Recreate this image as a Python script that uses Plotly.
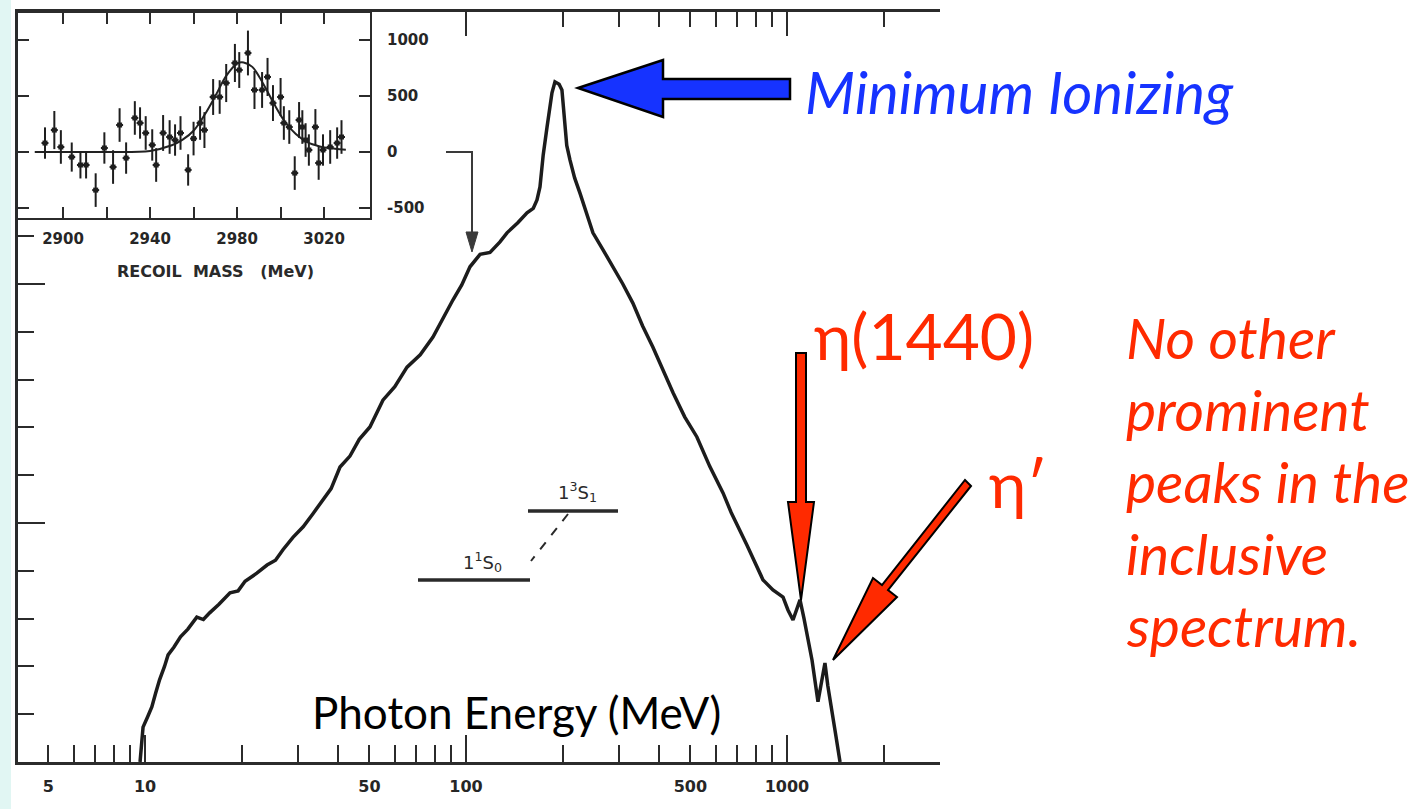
import plotly.graph_objects as go

W, H = 1424, 809

# ---------------- data ----------------
# main inclusive photon spectrum (photon energy in MeV, counts in arbitrary units)
energy = [9.65, 9.75, 9.86, 10.2, 10.5, 10.8, 11.1, 11.5, 11.8, 12.3, 12.9, 13.6, 14.5, 15.2, 15.9,
          17.0, 18.4, 19.5, 20.5, 22.3, 24.0, 25.5, 26.9, 28.9, 31.1, 33.4, 35.9, 38.0, 40.5, 43.5,
          46.5, 50.2, 55.1, 60.0, 65.5, 72.0, 78.9, 85.0, 91.1, 97.0, 102.9, 110.6, 118.8, 127.6,
          134.2, 145.0, 154.9, 162.0, 166.4, 170.0, 174.0, 178.8, 182.0, 185.3, 189.3, 195.0, 199.0,
          201.0, 203.0, 206.0, 210.9, 218.0, 226.5, 237.0, 248.6, 267.0, 287.0, 308.0, 331.0, 355.0,
          382.0, 410.0, 442.0, 480.0, 524.0, 575.0, 632.0, 670.0, 714.0, 750.0, 842.0, 904.0, 972.0,
          1007.0, 1044.0, 1075.0, 1098.0, 1130.0, 1163.0, 1197.0, 1249.0, 1280.0, 1313.0, 1340.0,
          1381.0, 1420.0, 1463.0]
counts = [0.0, 0.40, 0.73, 0.95, 1.15, 1.45, 1.72, 2.00, 2.24, 2.40, 2.62, 2.78, 3.03, 2.98, 3.12,
          3.30, 3.54, 3.58, 3.78, 3.95, 4.12, 4.22, 4.44, 4.70, 4.92, 5.20, 5.48, 5.72, 6.17, 6.40,
          6.75, 7.01, 7.57, 7.85, 8.26, 8.52, 8.89, 9.30, 9.67, 9.98, 10.36, 10.62, 10.66, 10.88,
          11.07, 11.28, 11.49, 11.58, 11.76, 12.03, 12.70, 13.28, 13.70, 14.00, 14.23, 14.18, 14.06,
          13.70, 13.28, 12.90, 12.59, 12.22, 11.90, 11.50, 11.07, 10.72, 10.36, 10.00, 9.60, 9.12,
          8.68, 8.20, 7.72, 7.22, 6.80, 6.18, 5.63, 5.22, 4.85, 4.54, 3.81, 3.60, 3.45,
          3.18, 2.97, 3.22, 3.39, 3.00, 2.55, 2.13, 1.26, 1.70, 2.07, 1.60,
          1.09, 0.55, 0.0]

x_label_vals = [5, 10, 50, 100, 500, 1000]
x_long_vals = [10, 100, 1000]
x_minor_vals = [6, 7, 8, 9, 20, 30, 40, 60, 70, 80, 90, 200, 300, 400, 600, 700, 800, 900, 2000, 3000]
x_top_long = [100, 1000]
x_top_minor = [200, 300, 400, 500, 600, 700, 800, 900, 2000, 3000]
y_long_vals = [5, 10]
y_minor_vals = [1, 2, 3, 4, 6, 7, 8, 9, 11]

# inset: recoil mass spectrum (background subtracted)
mass = [2891.7, 2896.0, 2899.0, 2904.0, 2908.0, 2910.6, 2915.0, 2919.0, 2923.0, 2926.0, 2929.0,
        2933.0, 2935.4, 2938.0, 2941.0, 2942.8, 2946.0, 2949.0, 2951.5, 2954.0, 2957.5, 2960.0,
        2963.0, 2965.0, 2969.0, 2972.0, 2975.0, 2979.0, 2981.0, 2985.0, 2988.0, 2991.5, 2994.0,
        2996.5, 3000.0, 3001.5, 3004.0, 3006.5, 3008.5, 3010.0, 3011.5, 3013.0, 3016.0, 3017.5,
        3019.5, 3022.8, 3026.0, 3028.0]
signal = [80, 196, 45, -45, -116, -116, -340, 36, -134, 241, -54,
          304, 259, 170, 63, -116, 170, 134, 107, 170, -160, 120,
          259, 196, 491, 491, 616, 795, 732, 884, 554, 554, 670,
          437, 491, 259, 223, -188, 286, 223, 107, 18, 223, -98,
          18, 45, 80, 134]
sig_err = [140, 170, 150, 130, 120, 120, 150, 140, 150, 150, 140,
           150, 140, 150, 140, 150, 160, 150, 140, 150, 140, 150,
           150, 160, 160, 150, 170, 170, 160, 200, 170, 160, 170,
           160, 170, 150, 150, 150, 160, 150, 150, 140, 160, 150,
           140, 150, 140, 150]
fit_mass = [2887, 2900, 2920, 2940, 2950, 2955, 2960, 2965, 2970, 2975, 2980, 2983, 2987, 2992,
            2997, 3002, 3007, 3012, 3018, 3025, 3030]
fit_vals = [0, 0, 0, 10, 60, 110, 190, 330, 500, 680, 790, 800, 760, 610, 430, 270, 160, 90, 50,
            30, 20]
inset_x_labels = [2900, 2940, 2980, 3020]
inset_x_minor = [2920, 2960, 3000]
inset_y_ticks = [-500, 0, 500, 1000]


# ---------------- helpers (pixel -> paper for decorations) ----------------
def px(x):
    return x / W


def py(y):
    return 1 - y / H


def path(points):
    return "M " + " L ".join(f"{px(a):.5f},{py(b):.5f}" for a, b in points) + " Z"


AX = "#2b2b2b"
TICKFONT = dict(family="DejaVu Sans", size=15, color="#262626", weight="bold")

fig = go.Figure()

# main spectrum
fig.add_trace(go.Scatter(x=energy, y=counts, mode="lines", xaxis="x", yaxis="y",
                         line=dict(color="#1c1c1c", width=3.5), showlegend=False, hoverinfo="skip"))
# empty traces to realise overlay axes
fig.add_trace(go.Scatter(x=[], y=[], xaxis="x2", yaxis="y", showlegend=False))
fig.add_trace(go.Scatter(x=[], y=[], xaxis="x3", yaxis="y", showlegend=False))

# inset
fig.add_trace(go.Scatter(x=fit_mass, y=fit_vals, mode="lines", xaxis="x4", yaxis="y4",
                         line=dict(color="#222", width=2, shape="spline"), showlegend=False,
                         hoverinfo="skip"))
fig.add_trace(go.Scatter(x=mass, y=signal, mode="markers", xaxis="x4", yaxis="y4",
                         marker=dict(symbol="square", size=5, color="#1e1e1e"),
                         error_y=dict(type="data", array=sig_err, color="#1e1e1e", thickness=2, width=0),
                         error_x=dict(type="constant", value=1.6, color="#1e1e1e", thickness=2, width=0),
                         showlegend=False, hoverinfo="skip"))

main_xrange = [0.6043, 3.4767]
main_xdom = [px(18), px(940)]
main_ydom = [py(762), py(12)]

fig.update_layout(
    width=W, height=H,
    margin=dict(l=0, r=0, t=0, b=0),
    paper_bgcolor="white", plot_bgcolor="white",
    xaxis=dict(type="log", range=main_xrange, domain=main_xdom, anchor="y",
               showgrid=False, zeroline=False, showline=True, linecolor=AX, linewidth=2.5,
               ticks="inside", ticklen=17, tickwidth=2, tickcolor=AX,
               tickmode="array", tickvals=x_label_vals, ticktext=[str(v) for v in x_label_vals],
               tickfont=dict(family="DejaVu Sans", size=16, color="#262626", weight="bold"),
               ticklabelstandoff=8,
               minor=dict(tickmode="array", tickvals=x_minor_vals, ticks="inside", ticklen=17,
                          tickwidth=2, tickcolor=AX, showgrid=False)),
    xaxis2=dict(type="log", range=main_xrange, overlaying="x", anchor="y", side="bottom",
                showgrid=False, zeroline=False, showline=False, showticklabels=False,
                ticks="inside", ticklen=27, tickwidth=2, tickcolor=AX,
                tickmode="array", tickvals=x_long_vals),
    xaxis3=dict(type="log", range=main_xrange, overlaying="x", anchor="y", side="top",
                showgrid=False, zeroline=False, showline=True, linecolor=AX, linewidth=2.5,
                showticklabels=False, ticks="inside", ticklen=24, tickwidth=2, tickcolor=AX,
                tickmode="array", tickvals=x_top_long,
                minor=dict(tickmode="array", tickvals=x_top_minor, ticks="inside", ticklen=15,
                           tickwidth=2, tickcolor=AX, showgrid=False)),
    yaxis=dict(range=[0, 15.69], domain=main_ydom, anchor="x",
               showgrid=False, zeroline=False, showline=True, linecolor=AX, linewidth=2.5,
               showticklabels=False, ticks="inside", ticklen=27, tickwidth=2, tickcolor=AX,
               tickmode="array", tickvals=y_long_vals,
               minor=dict(tickmode="array", tickvals=y_minor_vals, ticks="inside", ticklen=16,
                          tickwidth=2, tickcolor=AX, showgrid=False)),
    xaxis4=dict(range=[2879.3, 3041.1], domain=[px(18), px(370)], anchor="y4",
                showgrid=False, zeroline=False, showline=True, linecolor=AX, linewidth=2,
                mirror="ticks", ticks="inside", ticklen=11, tickwidth=2, tickcolor=AX,
                tickmode="array", tickvals=inset_x_labels,
                ticktext=[str(v) for v in inset_x_labels], tickfont=TICKFONT, ticklabelstandoff=6,
                minor=dict(tickmode="array", tickvals=inset_x_minor, ticks="inside", ticklen=11,
                           tickwidth=2, tickcolor=AX, showgrid=False)),
    yaxis4=dict(range=[-589, 1241], domain=[py(218), py(13)], anchor="x4", side="right",
                showgrid=False, zeroline=False, showline=True, linecolor=AX, linewidth=2,
                mirror="ticks", ticks="inside", ticklen=11, tickwidth=2, tickcolor=AX,
                tickmode="array", tickvals=inset_y_ticks,
                ticktext=[str(v) for v in inset_y_ticks], tickfont=TICKFONT, ticklabelstandoff=12),
)

shapes = []
# light strip at the left edge
shapes.append(dict(type="rect", xref="paper", yref="paper", x0=0, x1=px(11), y0=0, y1=1,
                   fillcolor="#e1f6f3", line=dict(width=0), layer="below"))
# blue arrow -> minimum ionizing peak
shapes.append(dict(type="path", xref="paper", yref="paper",
                   path=path([(578, 88), (663, 60), (663, 79), (790, 79), (790, 99), (663, 99), (663, 117)]),
                   fillcolor="#1633ff", line=dict(color="#000", width=2.5)))
# red vertical arrow -> eta(1440)
shapes.append(dict(type="path", xref="paper", yref="paper",
                   path=path([(796, 353), (806, 353), (806, 502), (814, 502), (801, 600),
                              (788, 502), (796, 502)]),
                   fillcolor="#ff2a00", line=dict(color="#000", width=2)))
# red slanted arrow -> eta'
shapes.append(dict(type="path", xref="paper", yref="paper",
                   path=path([(971, 486), (965, 480), (882, 585), (873, 578), (833, 660),
                              (897, 597), (888, 590)]),
                   fillcolor="#ff2a00", line=dict(color="#000", width=2)))
# small bent arrow from inset to spectrum
shapes.append(dict(type="path", xref="paper", yref="paper",
                   path="M " + " L ".join(f"{px(a):.5f},{py(b):.5f}" for a, b in
                                          [(446, 152), (472, 152), (472, 236)]),
                   line=dict(color="#3a3a3a", width=2)))
shapes.append(dict(type="path", xref="paper", yref="paper",
                   path=path([(466, 232), (478, 232), (472, 252)]),
                   fillcolor="#3a3a3a", line=dict(color="#3a3a3a", width=1)))
# energy level diagram
shapes.append(dict(type="line", xref="paper", yref="paper", x0=px(528), x1=px(618), y0=py(511), y1=py(511),
                   line=dict(color="#2a2a2a", width=3.5)))
shapes.append(dict(type="line", xref="paper", yref="paper", x0=px(418), x1=px(530), y0=py(580), y1=py(580),
                   line=dict(color="#2a2a2a", width=3.5)))
shapes.append(dict(type="line", xref="paper", yref="paper", x0=px(568), x1=px(531), y0=py(514), y1=py(561),
                   line=dict(color="#2a2a2a", width=2, dash="dash")))
fig.update_layout(shapes=shapes)

TXT = "Lato"
ann = []
ann.append(dict(text="Minimum Ionizing", x=px(803), y=py(91), xanchor="left", yanchor="middle",
                font=dict(family=TXT, size=58, color="#1633ff", style="italic")))
ann.append(dict(text="η(1440)", x=px(812), y=py(335), xanchor="left", yanchor="middle",
                font=dict(family=TXT, size=64, color="#ff2a00")))
ann.append(dict(text="η′", x=px(987), y=py(483), xanchor="left", yanchor="middle",
                font=dict(family=TXT, size=64, color="#ff2a00")))
for i, line in enumerate(["No other", "prominent", "peaks in the", "inclusive", "spectrum."]):
    ann.append(dict(text=line, x=px(1124), y=py(337 + 72 * i), xanchor="left", yanchor="middle",
                    font=dict(family=TXT, size=57, color="#ff2a00", style="italic")))
ann.append(dict(text="Photon Energy (MeV)", x=px(516), y=py(712), xanchor="center", yanchor="middle",
                font=dict(family=TXT, size=44, color="#000")))
ann.append(dict(text="RECOIL  MASS   (MeV)", x=px(215), y=py(272), xanchor="center", yanchor="middle",
                font=dict(family="DejaVu Sans", size=16, color="#2a2a2a", weight="bold")))
ann.append(dict(text="1<sup>3</sup>S<sub>1</sub>", x=px(577), y=py(492), xanchor="center", yanchor="middle",
                font=dict(family="DejaVu Sans", size=18, color="#2a2a2a")))
ann.append(dict(text="1<sup>1</sup>S<sub>0</sub>", x=px(482), y=py(562), xanchor="center", yanchor="middle",
                font=dict(family="DejaVu Sans", size=18, color="#2a2a2a")))
for a in ann:
    a.update(xref="paper", yref="paper", showarrow=False)
fig.update_layout(annotations=ann)

fig.write_html("out.html", config={"displayModeBar": False},
               post_script="document.body.style.margin='0px';")
